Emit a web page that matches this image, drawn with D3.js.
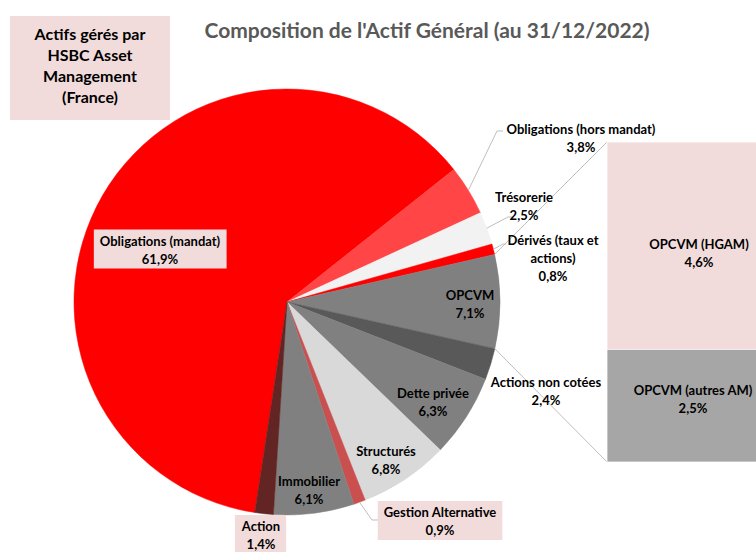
<!DOCTYPE html>
<html>
<head>
<meta charset="utf-8">
<script src="https://cdn.jsdelivr.net/npm/d3@7"></script>
<style>
  html, body { margin: 0; padding: 0; background: #fff; }
  svg { display: block; }
  text { font-family: Lato, "Open Sans", sans-serif; font-weight: bold; }
</style>
</head>
<body>
<svg id="chart" width="756" height="552"></svg>
<script>
// ---------- DATA ----------
const categories = ["Obligations (mandat)", "Obligations (hors mandat)", "Trésorerie",
  "Dérivés (taux et actions)", "OPCVM", "Actions non cotées", "Dette privée",
  "Structurés", "Gestion Alternative", "Immobilier", "Action"];
const values = [61.9, 3.8, 2.5, 0.8, 7.1, 2.4, 6.3, 6.8, 0.9, 6.1, 1.4];
const barCategories = ["OPCVM (HGAM)", "OPCVM (autres AM)"];
const barValues = [4.6, 2.5];
const title = "Composition de l'Actif Général (au 31/12/2022)";
const noteLines = ["Actifs gérés par", "HSBC Asset", "Management", "(France)"];

// ---------- STYLE / LAYOUT ----------
const W = 756, H = 552;
const cx = 287, cy = 302, R = 213;
const startDeg = 188.7;
const sliceColors = ["#ff0000", "#ff4545", "#f2f2f2", "#ff0000", "#808080", "#595959",
  "#808080", "#d9d9d9", "#c9504f", "#808080", "#632523"];
const barColors = ["#f2dcdb", "#a6a6a6"];
const pink = "#f2dcdb";
const lineH = 18;
const labelSize = "13px";

// label layout: block centre relative to pie centre, line breaks, box, leader elbow
const labelLayout = {
  "Obligations (mandat)":      {dx: -127, dy: -52.5, box: true},
  "Obligations (hors mandat)": {dx: 294, dy: -164.5, leader: [[210, -171], [216, -171]]},
  "Trésorerie":                {dx: 237, dy: -96.5, leader: [[221, -85], [226, -85]]},
  "Dérivés (taux et actions)": {dx: 266, dy: -44, lines: ["Dérivés (taux et", "actions)"], leader: [[216, -58], [219, -58]]},
  "OPCVM":                     {dx: 183, dy: 2},
  "Actions non cotées":        {dx: 259, dy: 89},
  "Dette privée":              {dx: 146, dy: 100},
  "Structurés":                {dx: 99, dy: 158},
  "Gestion Alternative":       {dx: 153, dy: 219, box: true, leader: [[85, 218], [91, 218]]},
  "Immobilier":                {dx: 22, dy: 187.5},
  "Action":                    {dx: -26, dy: 233, box: true}
};
const barX = 607, barW = 185, barTop = 142, barBottom = 462;
const barLabelLayout = [{x: 699, dy: 7}, {x: 693, dy: -7}];

const fr = d3.formatLocale({decimal: ",", thousands: " ", grouping: [3], currency: ["", " €"]});
const fmt = v => fr.format(".1f")(v) + "%";

const svg = d3.select("#chart");

// ---------- TITLE ----------
svg.append("text")
  .attr("x", 427).attr("y", 38)
  .attr("text-anchor", "middle")
  .attr("fill", "#595959")
  .style("font-size", "21px")
  .text(title);

// ---------- PIE ----------
const data = categories.map((c, i) => ({name: c, value: values[i], color: sliceColors[i]}));
const toRad = d => d * Math.PI / 180;
const pie = d3.pie().sort(null).value(d => d.value)
  .startAngle(toRad(startDeg)).endAngle(toRad(startDeg + 360));
const arcs = pie(data);
const arc = d3.arc().innerRadius(0).outerRadius(R);

const g = svg.append("g").attr("transform", `translate(${cx},${cy})`);
g.selectAll("path.slice").data(arcs).enter().append("path")
  .attr("class", "slice")
  .attr("d", arc)
  .attr("fill", d => d.data.color)
  .attr("stroke", d => d.data.color)
  .attr("stroke-width", 0.5);

const polar = (a, r) => [r * Math.sin(a), -r * Math.cos(a)];

// ---------- BAR OF PIE ----------
const other = arcs.find(a => a.data.name === "OPCVM");
const barTotal = d3.sum(barValues);
const yBar = d3.scaleLinear().domain([0, barTotal]).range([barTop, barBottom]);
let cum = 0;
const barSegs = barValues.map((v, i) => { const s = {name: barCategories[i], v, y0: cum, y1: cum + v, color: barColors[i]}; cum += v; return s; });

// connectors
const pA = polar(other.startAngle, R), pB = polar(other.endAngle, R);
svg.append("line")
  .attr("x1", cx + pA[0]).attr("y1", cy + pA[1])
  .attr("x2", barX).attr("y2", yBar(0))
  .attr("stroke", "#bfbfbf").attr("stroke-width", 1);
svg.append("line")
  .attr("x1", cx + pB[0]).attr("y1", cy + pB[1])
  .attr("x2", barX).attr("y2", yBar(barTotal))
  .attr("stroke", "#bfbfbf").attr("stroke-width", 1);

svg.selectAll("rect.bar").data(barSegs).enter().append("rect")
  .attr("class", "bar")
  .attr("x", barX).attr("width", barW)
  .attr("y", d => yBar(d.y0)).attr("height", d => yBar(d.y1) - yBar(d.y0))
  .attr("fill", d => d.color)
  .attr("stroke", "#ffffff").attr("stroke-width", 0.75);

barSegs.forEach((s, i) => {
  const ym = (yBar(s.y0) + yBar(s.y1)) / 2 + barLabelLayout[i].dy;
  const lines = [s.name, fmt(s.v)];
  const t = svg.append("text").attr("text-anchor", "middle").style("font-size", labelSize).attr("fill", "#000");
  lines.forEach((l, k) => t.append("tspan")
    .attr("x", barLabelLayout[i].x)
    .attr("y", ym + (k - (lines.length - 1) / 2) * lineH)
    .attr("dominant-baseline", "central").text(l));
});

// ---------- PIE LABELS ----------
arcs.forEach(a => {
  const L = labelLayout[a.data.name];
  const lx = cx + L.dx, ly = cy + L.dy;
  const lines = (L.lines || [a.data.name]).concat([fmt(a.data.value)]);
  if (L.leader) {
    const mid = (a.startAngle + a.endAngle) / 2;
    const p0 = polar(mid, R);
    const pts = [[cx + p0[0], cy + p0[1]]].concat(L.leader.map(p => [cx + p[0], cy + p[1]]));
    svg.append("path").attr("d", d3.line()(pts))
      .attr("fill", "none").attr("stroke", "#bfbfbf").attr("stroke-width", 1);
  }
  const grp = svg.append("g");
  const t = grp.append("text").attr("text-anchor", "middle").style("font-size", labelSize).attr("fill", "#000");
  lines.forEach((l, k) => t.append("tspan")
    .attr("x", lx)
    .attr("y", ly + (k - (lines.length - 1) / 2) * lineH)
    .attr("dominant-baseline", "central").text(l));
  if (L.box) {
    const bb = t.node().getBBox();
    grp.insert("rect", "text")
      .attr("x", bb.x - 6).attr("y", bb.y - 3)
      .attr("width", bb.width + 12).attr("height", bb.height + 5)
      .attr("fill", pink);
  }
});

// ---------- NOTE BOX ----------
svg.append("rect").attr("x", 10).attr("y", 16).attr("width", 160).attr("height", 104).attr("fill", pink);
const nt = svg.append("text").attr("text-anchor", "middle").style("font-size", "16px").attr("fill", "#000");
noteLines.forEach((l, k) => nt.append("tspan")
  .attr("x", 90).attr("y", 33 + k * 21.3)
  .attr("dominant-baseline", "central").text(l));
</script>
</body>
</html>
